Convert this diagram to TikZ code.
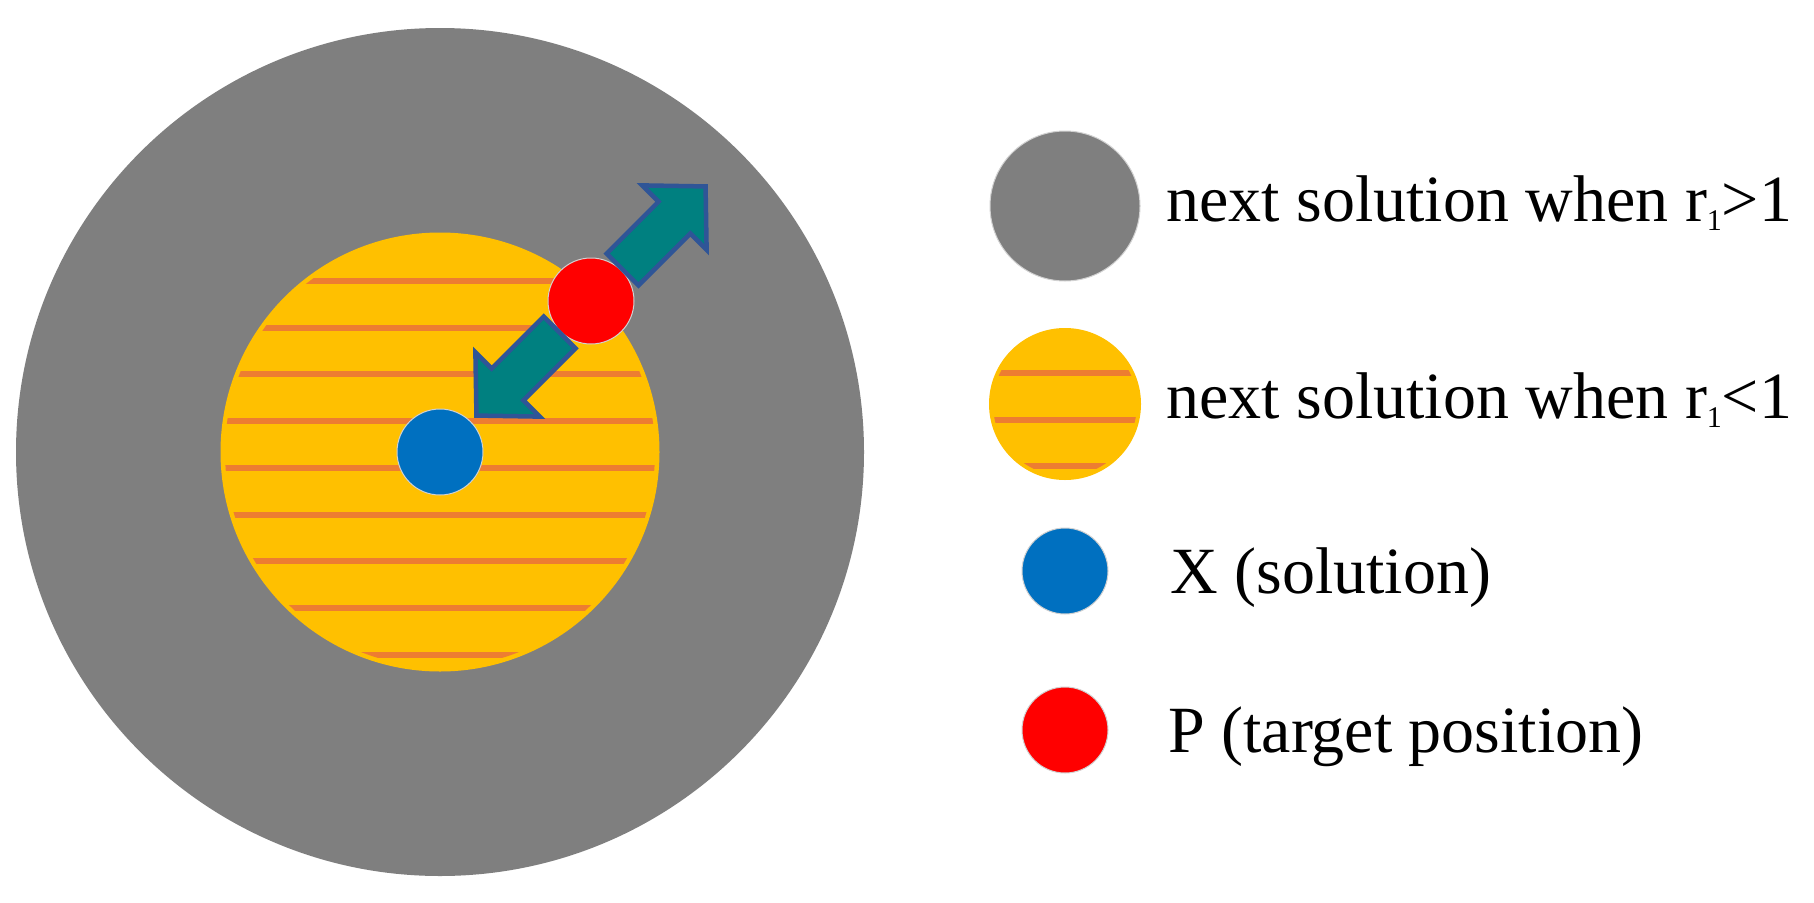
\documentclass[tikz,border=0pt]{standalone}
\usepackage{fontspec}
\setmainfont{Liberation Serif}
\definecolor{ggray}{RGB}{127,127,127}
\definecolor{gold}{RGB}{255,192,0}
\definecolor{stripecol}{RGB}{237,125,49}
\definecolor{xblue}{RGB}{0,112,192}
\definecolor{pred}{RGB}{255,0,0}
\definecolor{tealfill}{RGB}{0,128,128}
\definecolor{aedge}{RGB}{47,85,151}
\begin{document}
\begin{tikzpicture}[x=1pt,y=-1pt,
  disc/.style={circle,inner sep=0pt,outer sep=0pt,minimum size=#1},
  rim/.style={draw=black!18,line width=1pt},
  stripebar/.style={fill=stripecol},
  blockarrow/.style={fill=tealfill,draw=aedge,line width=4.5pt,line join=miter},
  legtext/.style={anchor=base west,inner sep=0pt,font=\fontsize{66}{79}\selectfont}
]
\useasboundingbox (0,0) rectangle (1814,902);
\fill[white] (0,0) rectangle (1814,902);

% main picture
\node[disc=848pt,fill=ggray] (G) at (440,452) {};
\node[disc=439pt,fill=gold] (Y) at (440,452) {};
\begin{scope}
  \clip (Y.center) circle[radius=215pt];
  \foreach \k in {0,...,8}{
    \fill[stripebar] (200,{278+46.7*\k}) rectangle (680,{284+46.7*\k});
  }
\end{scope}
\node[disc=86pt,fill=xblue,rim] (X) at (Y.center) {};
\node[disc=86pt,fill=pred,rim] (P) at (591,301) {};

\begin{scope}[shift={(P.center)},rotate=45]
  \draw[blockarrow] (44.5,-22.5) -- (118,-22.5) -- (118,-45.5) -- (162,0) -- (118,45.5) -- (118,22.5) -- (44.5,22.5) -- cycle;
\end{scope}
\begin{scope}[shift={(P.center)},rotate=225]
  \draw[blockarrow] (44.5,-22.5) -- (118,-22.5) -- (118,-45.5) -- (162,0) -- (118,45.5) -- (118,22.5) -- (44.5,22.5) -- cycle;
\end{scope}

% legend
\node[disc=150pt,fill=ggray,rim] (LG) at (1065,206) {};
\node[disc=152pt,fill=gold] (LY) at (1065,404) {};
\begin{scope}
  \clip (LY.center) circle[radius=72pt];
  \foreach \k in {0,1,2}{
    \fill[stripebar] (980,{370+46.5*\k}) rectangle (1150,{376+46.5*\k});
  }
\end{scope}
\node[disc=86pt,fill=xblue,rim] (LX) at (1065,571) {};
\node[disc=86pt,fill=pred,rim] (LP) at (1065,730) {};

\node[legtext] (T1) at (1166,221) {next solution when r\raisebox{-9pt}{\fontsize{30}{30}\selectfont 1}>1};
\node[legtext] (T2) at (1166,418) {next solution when r\raisebox{-9pt}{\fontsize{30}{30}\selectfont 1}<1};
\node[legtext] (T3) at (1170,593) {X (solution)};
\node[legtext] (T4) at (1168,752) {P (target position)};
\end{tikzpicture}
\end{document}
